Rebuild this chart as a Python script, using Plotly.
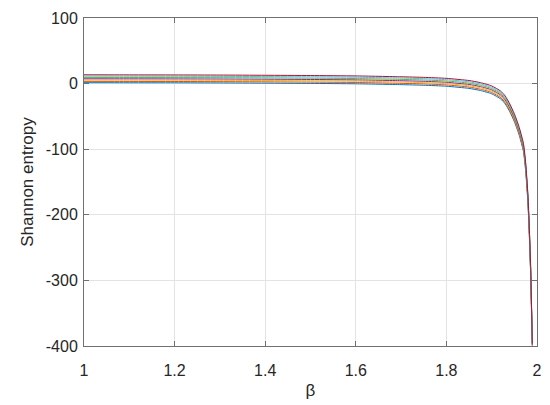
import plotly.graph_objects as go

beta = [1.0, 1.1, 1.2, 1.3, 1.4, 1.5, 1.6, 1.7, 1.75, 1.8, 1.85, 1.875, 1.9, 1.92,
        1.93, 1.94, 1.95, 1.96, 1.97, 1.975, 1.98, 1.983, 1.986, 1.9897]

s1 = [1.4, 1.3, 1.2, 1.0, 0.7, 0.3, -0.3, -1.6, -2.5, -4.0, -7.3, -10.5, -15.5, -23.5,
      -31, -43, -58, -77, -103, -133, -182, -230, -291, -399.5]
s2 = [3.4, 3.3, 3.2, 3.0, 2.7, 2.3, 1.7, 0.4, -0.5, -2.0, -5.3, -8.5, -13.5, -21.5,
      -29, -41, -56, -75, -101, -131, -180, -228, -289, -399]
s3 = [5.4, 5.3, 5.2, 5.0, 4.7, 4.3, 3.7, 2.4, 1.5, 0.0, -3.3, -6.5, -11.5, -19.5,
      -27, -39, -54, -73, -99, -129, -178, -226, -287, -398.5]
s4 = [7.4, 7.3, 7.2, 7.0, 6.7, 6.3, 5.7, 4.4, 3.5, 2.0, -1.3, -4.5, -9.5, -17.5,
      -25, -37, -52, -71, -97, -127, -176, -224, -285, -398]
s5 = [9.4, 9.3, 9.2, 9.0, 8.7, 8.3, 7.7, 6.4, 5.5, 4.0, 0.7, -2.5, -7.5, -15.5,
      -23, -35, -50, -69, -95, -125, -174, -222, -283, -397.5]
s6 = [11.4, 11.3, 11.2, 11.0, 10.7, 10.3, 9.7, 8.4, 7.5, 6.0, 2.7, -0.5, -5.5, -13.5,
      -21, -33, -48, -67, -93, -123, -172, -220, -281, -397]
s7 = [13.4, 13.3, 13.2, 13.0, 12.7, 12.3, 11.7, 10.4, 9.5, 8.0, 4.7, 1.5, -3.5, -11.5,
      -19, -31, -46, -65, -91, -121, -170, -218, -279, -396.5]

series = [s1, s2, s3, s4, s5, s6, s7]
colors = ["#0072BD", "#D95319", "#EDB120", "#7E2F8E", "#77AC30", "#4DBEEE", "#A2142F"]

x_ticks = [1, 1.2, 1.4, 1.6, 1.8, 2]
x_tick_labels = ["1", "1.2", "1.4", "1.6", "1.8", "2"]
y_ticks = [100, 0, -100, -200, -300, -400]
y_tick_labels = ["100", "0", "-100", "-200", "-300", "-400"]

FONT = "Liberation Sans, Arial, sans-serif"

fig = go.Figure()
for ys, c in zip(series, colors):
    fig.add_trace(go.Scatter(x=beta, y=ys, mode="lines",
                             line=dict(color=c, width=1, shape="spline", smoothing=0.5),
                             showlegend=False, hoverinfo="skip"))

axis_common = dict(
    showline=True, linecolor="#707070", linewidth=1, mirror="ticks",
    ticks="inside", ticklen=5, tickcolor="#707070", tickwidth=1,
    showgrid=True, gridcolor="#e3e3e3", gridwidth=1, zeroline=False,
    automargin=False,
    tickfont=dict(family=FONT, size=16, color="#262626"),
)

fig.update_layout(
    width=550, height=405,
    margin=dict(l=76, r=21, t=10, b=67),
    paper_bgcolor="white", plot_bgcolor="white",
    xaxis=dict(range=[1, 2], tickvals=x_ticks, ticktext=x_tick_labels,
               ticklabelstandoff=10,
               title=dict(text="β", font=dict(family=FONT, size=17, color="#262626"), standoff=5),
               **axis_common),
    yaxis=dict(range=[-400, 100], tickvals=y_ticks, ticktext=y_tick_labels,
               ticklabelstandoff=2,
               title=dict(text="Shannon entropy", font=dict(family=FONT, size=17, color="#262626"), standoff=7),
               **axis_common),
)

fig.write_html("out.html")
